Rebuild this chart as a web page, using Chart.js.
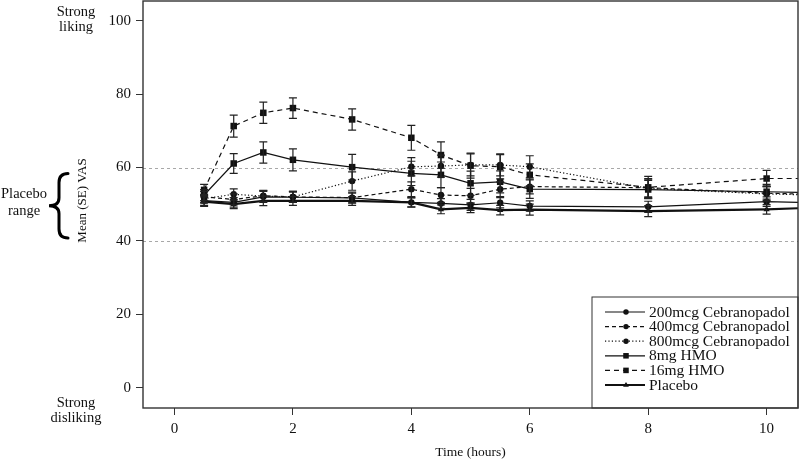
<!DOCTYPE html>
<html><head><meta charset="utf-8">
<script src="https://cdn.jsdelivr.net/npm/chart.js@4.4.0/dist/chart.umd.min.js"></script>
<style>html,body{margin:0;padding:0;background:#fff;}</style>
</head><body>
<canvas id="c" width="800" height="461"></canvas>
<script>
// ---- data ----
const times = [0.5, 1, 1.5, 2, 3, 4, 4.5, 5, 5.5, 6, 8, 10, 10.53]; // last entry: where lines leave the plot edge
const seriesNames = ['200mcg Cebranopadol', '400mcg Cebranopadol', '800mcg Cebranopadol', '8mg HMO', '16mg HMO', 'Placebo'];
const mean200 = [51.0, 50.5, 52.0, 51.9, 51.7, 50.5, 50.2, 49.8, 50.4, 49.5, 49.3, 50.7, 50.5];
const se200   = [1.3, 1.3, 1.5, 1.4, 1.3, 1.3, 1.3, 1.5, 1.4, 1.4, 1.5, 1.3, null];
const mean400 = [52.0, 51.3, 52.3, 52.0, 51.8, 54.1, 52.5, 52.3, 54.1, 54.8, 54.5, 53.0, 52.8];
const se400   = [1.5, 1.5, 1.5, 1.5, 1.5, 2.0, 2.0, 2.0, 2.0, 2.0, 2.5, 2.0, null];
const mean800 = [51.5, 52.7, 52.2, 52.0, 56.3, 60.2, 60.4, 60.7, 60.7, 60.2, 54.3, 52.8, 52.6];
const se800   = [1.2, 1.5, 1.5, 1.5, 2.5, 2.5, 3.0, 3.0, 3.0, 3.0, 2.5, 2.0, null];
const mean8mg = [52.5, 61.1, 64.1, 62.1, 60.1, 58.4, 58.0, 55.7, 56.1, 54.1, 54.0, 53.4, 53.2];
const se8mg   = [1.5, 2.7, 2.9, 3.0, 3.5, 3.3, 3.5, 3.3, 3.0, 2.5, 2.5, 2.0, null];
const mean16mg = [53.9, 71.3, 74.9, 76.2, 73.1, 68.1, 63.4, 60.5, 60.2, 58.0, 54.6, 57.0, 57.0];
const se16mg   = [1.5, 3.0, 2.9, 2.8, 2.9, 3.4, 3.6, 3.4, 3.3, 3.0, 3.0, 2.2, null];
const meanPlacebo = [50.7, 50.0, 50.9, 50.9, 50.9, 50.5, 48.6, 49.0, 48.4, 48.5, 48.1, 48.6, 48.9];
const sePlacebo   = [1.3, 1.2, 1.3, 1.2, 1.2, 1.2, 1.2, 1.3, 1.3, 1.5, 1.5, 1.3, null];
const xTicks = [0, 2, 4, 6, 8, 10];
const yTicks = [0, 20, 40, 60, 80, 100];
const placeboRange = [40, 60];

// ---- styles ----
const FONT = "'Liberation Serif', 'Times New Roman', serif";
const INK = '#111';
const styles = [
  {dash: [], width: 1.2, point: 'circle', r: 3.2},
  {dash: [4, 3], width: 1.2, point: 'circle', r: 3.2},
  {dash: [1.2, 2.2], width: 1.2, point: 'circle', r: 3.2},
  {dash: [], width: 1.2, point: 'rect', r: 4.6},
  {dash: [5, 4], width: 1.2, point: 'rect', r: 4.6},
  {dash: [], width: 2.2, point: 'triangle', r: 3.6}
];
const means = [mean200, mean400, mean800, mean8mg, mean16mg, meanPlacebo];
const ses = [se200, se400, se800, se8mg, se16mg, sePlacebo];
const lastIdx = times.length - 1;

const datasets = seriesNames.map((name, i) => ({
  label: name,
  data: times.map((t, k) => ({x: t, y: means[i][k]})),
  borderColor: INK,
  backgroundColor: INK,
  borderWidth: styles[i].width,
  borderDash: styles[i].dash,
  pointStyle: styles[i].point,
  pointRadius: c => c.dataIndex === lastIdx ? 0 : styles[i].r,
  pointBorderWidth: 0,
  pointBackgroundColor: INK,
  tension: 0,
  fill: false
}));

function drawMarker(ctx, style, x, y, r) {
  ctx.beginPath();
  if (style === 'circle') { ctx.arc(x, y, r, 0, Math.PI * 2); }
  else if (style === 'rect') { const s = r * Math.SQRT1_2; ctx.rect(x - s, y - s, 2 * s, 2 * s); }
  else { ctx.moveTo(x, y - r); ctx.lineTo(x + r * 0.95, y + r * 0.6); ctx.lineTo(x - r * 0.95, y + r * 0.6); ctx.closePath(); }
  ctx.fill();
}

const decor = {
  id: 'decor',
  beforeDatasetsDraw(chart) {
    const {ctx, chartArea: a, scales: {y}} = chart;
    ctx.save();
    ctx.strokeStyle = '#a8a8a8'; ctx.lineWidth = 1; ctx.setLineDash([3, 3]);
    placeboRange.forEach(v => {
      const py = Math.round(y.getPixelForValue(v)) + 0.5;
      ctx.beginPath(); ctx.moveTo(a.left, py); ctx.lineTo(a.right, py); ctx.stroke();
    });
    ctx.restore();
  },
  afterDatasetsDraw(chart) {
    const {ctx, scales: {x, y}} = chart;
    ctx.save();
    ctx.strokeStyle = '#222'; ctx.lineWidth = 1.2; ctx.setLineDash([]);
    ses.forEach((arr, i) => {
      arr.forEach((se, k) => {
        if (se == null) return;
        const px = x.getPixelForValue(times[k]);
        const yt = y.getPixelForValue(means[i][k] + se);
        const yb = y.getPixelForValue(means[i][k] - se);
        ctx.beginPath();
        ctx.moveTo(px, yt); ctx.lineTo(px, yb);
        ctx.moveTo(px - 4, yt); ctx.lineTo(px + 4, yt);
        ctx.moveTo(px - 4, yb); ctx.lineTo(px + 4, yb);
        ctx.stroke();
      });
    });
    ctx.restore();
  },
  afterDraw(chart) {
    const {ctx, chartArea: a, scales: {y}} = chart;
    ctx.save();
    // plot box
    ctx.strokeStyle = '#333'; ctx.lineWidth = 1.4; ctx.setLineDash([]);
    ctx.strokeRect(a.left, a.top, a.right - a.left, a.bottom - a.top);
    // legend
    const lx = 592, ly = 297;
    ctx.lineWidth = 1; ctx.strokeStyle = '#333';
    ctx.strokeRect(lx, ly, a.right - lx, a.bottom - ly);
    ctx.font = '15.5px ' + FONT; ctx.textBaseline = 'middle'; ctx.textAlign = 'left';
    seriesNames.forEach((name, i) => {
      const ry = 312 + i * 14.6;
      ctx.strokeStyle = INK; ctx.lineWidth = styles[i].width; ctx.setLineDash(styles[i].dash);
      ctx.beginPath(); ctx.moveTo(605, ry); ctx.lineTo(645, ry); ctx.stroke();
      ctx.setLineDash([]);
      ctx.fillStyle = INK;
      drawMarker(ctx, styles[i].point, 626, ry, styles[i].r * 0.85);
      ctx.fillText(name, 649, ry + 0.5);
    });
    // side annotations
    ctx.fillStyle = INK; ctx.textAlign = 'center'; ctx.textBaseline = 'middle';
    ctx.font = '14.5px ' + FONT;
    ctx.fillText('Strong', 76, 12); ctx.fillText('liking', 76, 27);
    ctx.fillText('Strong', 76, 403); ctx.fillText('disliking', 76, 418.5);
    ctx.fillText('Placebo', 24, 194); ctx.fillText('range', 24, 211);
    // brace spanning the placebo range
    const yTop = y.getPixelForValue(placeboRange[1]) + 6, yBot = y.getPixelForValue(placeboRange[0]) - 3;
    const yMid = (yTop + yBot) / 2;
    ctx.strokeStyle = '#000'; ctx.lineWidth = 3; ctx.lineCap = 'round';
    ctx.beginPath();
    ctx.moveTo(68, yTop);
    ctx.quadraticCurveTo(59, yTop, 59, yTop + 9);
    ctx.lineTo(59, yMid - 8);
    ctx.quadraticCurveTo(59, yMid, 49, yMid);
    ctx.quadraticCurveTo(59, yMid, 59, yMid + 8);
    ctx.lineTo(59, yBot - 9);
    ctx.quadraticCurveTo(59, yBot, 68, yBot);
    ctx.stroke();
    // axis titles
    ctx.font = '13.5px ' + FONT;
    ctx.fillText('Time (hours)', (a.left + a.right) / 2, 452);
    ctx.save();
    ctx.translate(83, 200.5); ctx.rotate(-Math.PI / 2);
    ctx.font = '13px ' + FONT;
    ctx.fillText('Mean (SE) VAS', 0, 0);
    ctx.restore();
    ctx.restore();
  }
};

new Chart(document.getElementById('c'), {
  type: 'line',
  data: {datasets},
  plugins: [decor],
  options: {
    responsive: false, animation: false, devicePixelRatio: 1,
    layout: {autoPadding: false, padding: {top: 1, right: 2, left: 0, bottom: 0}},
    plugins: {legend: {display: false}, tooltip: {enabled: false}},
    scales: {
      x: {
        type: 'linear', min: -0.532, max: 10.53,
        afterBuildTicks: s => { s.ticks = xTicks.map(v => ({value: v})); },
        afterFit: s => { s.height = 53; s.paddingLeft = 0; s.paddingRight = 0; },
        grid: {drawOnChartArea: false, drawTicks: true, tickLength: 7, color: '#333', lineWidth: 1},
        border: {display: false},
        ticks: {padding: 5, autoSkip: false, maxRotation: 0, color: INK, font: {family: FONT, size: 15}}
      },
      y: {
        type: 'linear', min: -5.53, max: 105.37,
        afterBuildTicks: s => { s.ticks = yTicks.map(v => ({value: v})); },
        afterFit: s => { s.width = 143; s.paddingTop = 0; s.paddingBottom = 0; },
        grid: {drawOnChartArea: false, drawTicks: true, tickLength: 7, color: '#333', lineWidth: 1},
        border: {display: false},
        ticks: {padding: 5, color: INK, font: {family: FONT, size: 15}}
      }
    }
  }
});
</script>
</body></html>
